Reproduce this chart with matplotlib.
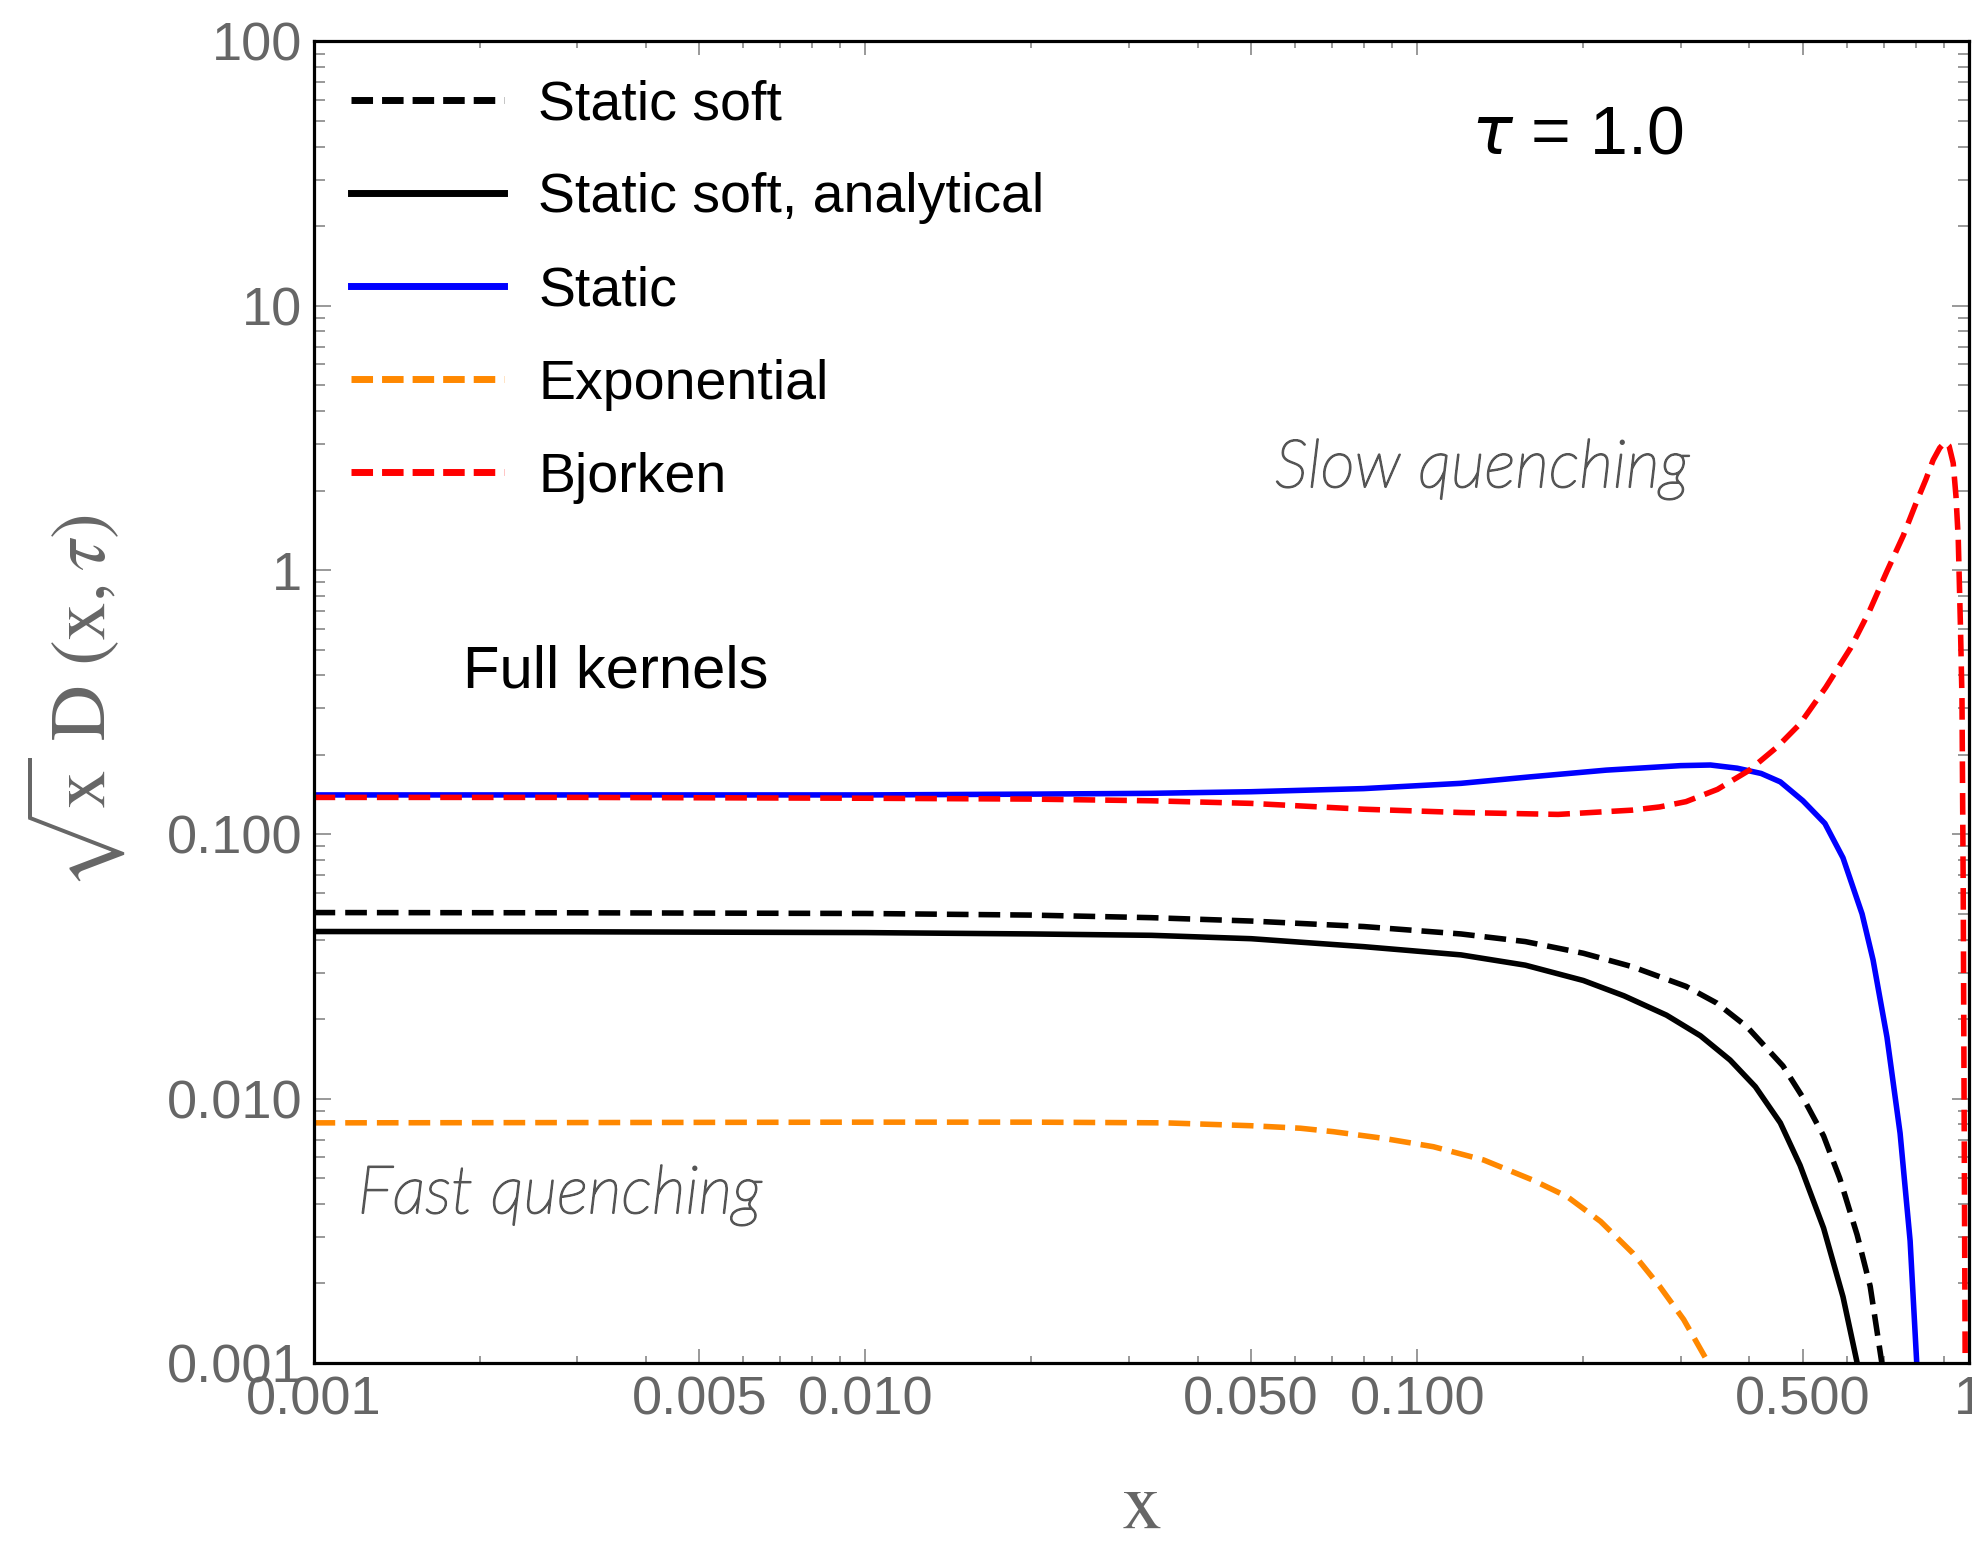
import matplotlib
matplotlib.use('Agg')
import matplotlib.pyplot as plt
import matplotlib.patheffects as pe
from matplotlib.ticker import FixedLocator, FixedFormatter, NullFormatter

# %% curves (x, sqrt(x) D(x, tau)) at tau = 1.0
x_soft = [0.001, 0.003, 0.01, 0.02, 0.033, 0.05, 0.08, 0.12, 0.157, 0.2, 0.245,
          0.307, 0.349, 0.396, 0.46, 0.5, 0.545, 0.583, 0.627, 0.662, 0.695]
y_soft = [0.0506, 0.0505, 0.0502, 0.0495, 0.0484, 0.047, 0.0448, 0.042, 0.0393, 0.0355, 0.0316,
          0.0266, 0.023, 0.0187, 0.0133, 0.0101, 0.00723, 0.0050, 0.00305, 0.00195, 0.001]

x_anal = [0.001, 0.003, 0.01, 0.02, 0.033, 0.05, 0.08, 0.12, 0.157, 0.2, 0.237,
          0.283, 0.326, 0.369, 0.41, 0.455, 0.494, 0.545, 0.591, 0.627]
y_anal = [0.0429, 0.0428, 0.0425, 0.042, 0.0415, 0.0403, 0.0376, 0.035, 0.032, 0.028, 0.0245,
          0.0207, 0.0173, 0.014, 0.0111, 0.0081, 0.0056, 0.00324, 0.00178, 0.001]

x_static = [0.001, 0.003, 0.01, 0.02, 0.033, 0.05, 0.08, 0.12, 0.16, 0.22, 0.3, 0.34,
            0.38, 0.42, 0.455, 0.5, 0.548, 0.591, 0.64, 0.67, 0.71, 0.75, 0.782, 0.805]
y_static = [0.141, 0.141, 0.141, 0.142, 0.143, 0.145, 0.149, 0.156, 0.165, 0.175, 0.182, 0.183,
            0.178, 0.17, 0.158, 0.134, 0.11, 0.0815, 0.050, 0.0335, 0.0171, 0.0074, 0.0029, 0.00095]

x_expo = [0.001, 0.003, 0.01, 0.02, 0.035, 0.05, 0.0614, 0.0705, 0.0868, 0.107, 0.132,
          0.162, 0.187, 0.215, 0.246, 0.275, 0.304, 0.337]
y_expo = [0.0081, 0.00812, 0.00815, 0.00815, 0.0081, 0.0079, 0.00773, 0.0075, 0.00708, 0.00658, 0.00586,
          0.00492, 0.00426, 0.00343, 0.0026, 0.00195, 0.00146, 0.001]

x_bjork = [0.001, 0.003, 0.01, 0.02, 0.033, 0.05, 0.08, 0.12, 0.18, 0.245, 0.275, 0.307, 0.35, 0.4,
           0.45, 0.494, 0.55, 0.61, 0.66, 0.71, 0.76, 0.804, 0.835, 0.861, 0.885, 0.905, 0.92,
           0.936, 0.947, 0.956, 0.965, 0.971, 0.976, 0.984]
y_bjork = [0.138, 0.138, 0.137, 0.136, 0.134, 0.131, 0.1245, 0.121, 0.119, 0.1235, 0.127, 0.133, 0.148, 0.175,
           0.215, 0.262, 0.36, 0.507, 0.7, 0.99, 1.35, 1.82, 2.2, 2.61, 2.9, 3.05, 2.95,
           2.54, 1.9, 1.31, 0.6, 0.325, 0.0615, 0.001]

xticks = [0.001, 0.005, 0.01, 0.05, 0.1, 0.5, 1]
xticklabels = ['0.001', '0.005', '0.010', '0.050', '0.100', '0.500', '1']
yticks = [0.001, 0.01, 0.1, 1, 10, 100]
yticklabels = ['0.001', '0.010', '0.100', '1', '10', '100']

plt.rcParams['font.family'] = ['Liberation Sans', 'DejaVu Sans']

fg = plt.figure(figsize=(19.72, 15.42), dpi=100)
ax = fg.add_axes([0.159, 0.1161, 0.8395, 0.857])

lw = 4
dash = (0, (3.9, 1.8))
ax.plot(x_soft, y_soft, color='k', lw=lw, ls=dash, label='Static soft')
ax.plot(x_anal, y_anal, color='k', lw=lw, label='Static soft, analytical')
ax.plot(x_static, y_static, color='#0000ff', lw=lw, label='Static')
ax.plot(x_expo, y_expo, color='#ff8800', lw=lw, ls=dash, label='Exponential')
ax.plot(x_bjork, y_bjork, color='#ff0000', lw=lw, ls=dash, label='Bjorken')

ax.set_xscale('log')
ax.set_yscale('log')
ax.set_xlim(1e-3, 1)
ax.set_ylim(1e-3, 100)
# %% Mathematica-style frame ticks
xminor = [m * 10.0**e for e in (-3, -2, -1) for m in (2, 3, 4, 6, 7, 8, 9)]
yminor = [m * 10.0**e for e in (-3, -2, -1, 0, 1) for m in (2, 3, 4, 5, 6, 7, 8, 9)]
ax.xaxis.set_major_locator(FixedLocator(xticks))
ax.xaxis.set_major_formatter(FixedFormatter(xticklabels))
ax.xaxis.set_minor_locator(FixedLocator(xminor))
ax.xaxis.set_minor_formatter(NullFormatter())
ax.yaxis.set_major_locator(FixedLocator(yticks))
ax.yaxis.set_major_formatter(FixedFormatter(yticklabels))
ax.yaxis.set_minor_locator(FixedLocator(yminor))
ax.yaxis.set_minor_formatter(NullFormatter())

ax.tick_params(which='both', direction='in', top=True, right=True, color='#888888',
               width=1.2, labelcolor='#666666', labelsize=39)
ax.tick_params(axis='x', which='major', length=10, pad=9)
ax.tick_params(axis='x', which='minor', length=5)
ax.tick_params(axis='y', which='major', length=12, pad=8)
ax.tick_params(axis='y', which='minor', length=8)
for s in ax.spines.values():
    s.set_linewidth(2.3)
    s.set_color('k')

ax.set_xlabel(r'$\mathrm{x}$', fontsize=58, color='#666666', math_fontfamily='stix')
ax.set_ylabel(r'$\sqrt{\mathrm{x}}\ \mathrm{D}\ (\mathrm{x},\tau)$', fontsize=56,
              color='#666666', math_fontfamily='stix')
ax.xaxis.set_label_coords(0.5, -0.080)
ax.yaxis.set_label_coords(-0.112, 0.5)

leg = ax.legend(loc='upper left', bbox_to_anchor=(0.0227, 0.9714), frameon=False, fontsize=40,
                handlelength=2.75, handletextpad=0.62, labelspacing=0.74,
                borderpad=0, borderaxespad=0)
for ln in leg.get_lines():
    dashed = ln.get_linestyle() != '-'
    ln.set_linewidth(5)
    if dashed:
        ln.set_linestyle((0, (3.1, 1.3)))

# %% annotations
ax.text(0.195, 37.8, r'$\tau$ = 1.0', ha='center', va='baseline', fontsize=49,
        math_fontfamily='dejavusans')
ax.text(0.001866, 0.361, 'Full kernels', ha='left', va='baseline', fontsize=43)
qcol = '#555555'
thicken = [pe.withStroke(linewidth=1.3, foreground=qcol)]
ax.text(0.131, 2.06, 'Slow quenching', ha='center', va='baseline', fontsize=48,
        color=qcol, family='Lato', style='italic', weight='light', path_effects=thicken)
ax.text(0.00279, 0.00369, 'Fast quenching', ha='center', va='baseline', fontsize=48,
        color=qcol, family='Lato', style='italic', weight='light', path_effects=thicken)

fg.savefig('out.png', dpi=100)
